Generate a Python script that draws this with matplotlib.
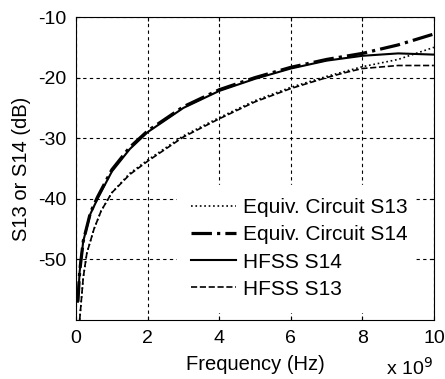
import matplotlib
matplotlib.use('Agg')
import matplotlib.pyplot as plt

plt.rcParams['font.family'] = ['Liberation Sans', 'DejaVu Sans']
plt.rcParams['axes.unicode_minus'] = False

# frequency in GHz (axis shows x 10^9 Hz)
freq_top = [0.05, 0.1, 0.2, 0.4, 0.6, 1.0, 1.5, 2.0, 3.0, 4.0, 5.0, 6.0, 7.0, 8.0, 9.0, 10.0]
hfss_s14 = [-57, -52, -47, -42.5, -40, -35.5, -31.8, -29.0, -25.0, -22.2, -20.2, -18.5, -17.2, -16.4, -16.0, -16.2]
eq_s14 = [-57, -52, -47, -42.3, -39.7, -35.2, -31.5, -28.8, -24.8, -22.0, -20.0, -18.3, -17.0, -16.0, -14.6, -12.8]

freq_low = [0.1, 0.2, 0.3, 0.5, 0.7, 1.0, 1.5, 2.0, 3.0, 4.0, 5.0, 6.0, 7.0, 7.5, 8.0, 9.0, 10.0]
hfss_s13 = [-60, -53, -49, -45, -42, -39, -36, -33.8, -29.8, -26.8, -24.0, -21.8, -20.0, -19.2, -18.5, -18.0, -18.0]
eq_s13 = [-60, -53, -49, -45, -42, -39, -35.8, -33.6, -29.6, -26.6, -23.8, -21.6, -19.8, -19.0, -18.2, -17.0, -15.0]

fig = plt.figure(figsize=(4.45, 3.79), dpi=100)
ax = fig.add_axes([0.171, 0.156, 0.804, 0.799])

ax.plot(freq_low, eq_s13, color='black', ls=':', lw=1.2, label='Equiv. Circuit S13')
ax.plot(freq_top, eq_s14, color='black', ls='-.', lw=2.3, label='Equiv. Circuit S14')
ax.plot(freq_top, hfss_s14, color='black', ls='-', lw=1.5, label='HFSS S14')
ax.plot(freq_low, hfss_s13, color='black', ls='--', lw=1.2, label='HFSS S13')

ax.set_xlim(0, 10)
ax.set_ylim(-60, -10)
ax.set_xticks([0, 2, 4, 6, 8, 10])
ax.set_yticks([-50, -40, -30, -20, -10])
ax.grid(True, color='black', ls=(0, (3, 3)), lw=0.8)
ax.tick_params(direction='in', labelsize=14, length=3, pad=7, top=True, right=True)
for s in ax.spines.values():
    s.set_linewidth(0.8)

ax.set_xlabel('Frequency (Hz)', fontsize=14.5, labelpad=6)
ax.set_ylabel('S13 or S14 (dB)', fontsize=14.5, labelpad=5)
fig.text(0.868, 0.01, 'x 10$^9$', fontsize=14)

leg = ax.legend(loc='upper left', bbox_to_anchor=(0.282, 0.446, 0.665, 0.0), mode='expand',
                fontsize=15, frameon=True, fancybox=False, framealpha=1,
                handlelength=2.2, handletextpad=0.3, labelspacing=0.39, borderpad=0.65,
                borderaxespad=0)
leg.get_frame().set_edgecolor('white')
leg.get_frame().set_facecolor('white')

fig.savefig('out.png', dpi=100)
